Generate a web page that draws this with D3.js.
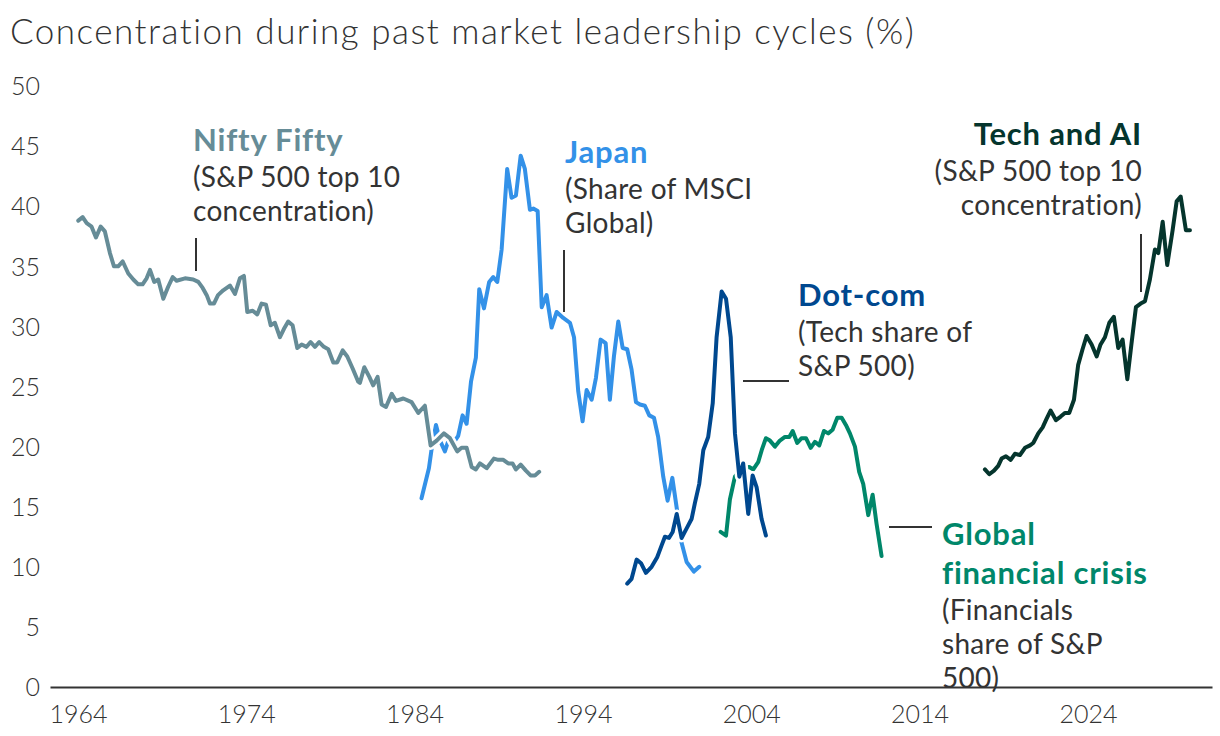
<!DOCTYPE html>
<html>
<head>
<meta charset="utf-8">
<script src="https://cdn.jsdelivr.net/npm/d3@7"></script>
<style>
  body { margin: 0; background: #fff; }
  svg text { font-family: Lato, "Open Sans", sans-serif; fill: #333; }
</style>
</head>
<body>
<div id="chart"></div>
<script>
// Series: [year, percent]
const niftyFifty = [
  [1964.02, 38.8], [1964.28, 39.1], [1964.52, 38.6], [1964.81, 38.3], [1965.07, 37.4],
  [1965.35, 38.3], [1965.60, 37.9], [1965.90, 36.1], [1966.14, 35.0], [1966.39, 35.0],
  [1966.66, 35.4], [1966.99, 34.4], [1967.29, 33.9], [1967.58, 33.5], [1967.84, 33.5],
  [1968.08, 34.0], [1968.28, 34.7], [1968.53, 33.7], [1968.77, 33.9], [1969.07, 32.3],
  [1969.36, 33.3], [1969.63, 34.1], [1969.86, 33.8], [1970.36, 34.0], [1970.85, 33.9],
  [1971.15, 33.7], [1971.41, 33.2], [1971.65, 32.6], [1971.84, 31.9], [1972.08, 31.9],
  [1972.32, 32.6], [1972.63, 33.0], [1973.03, 33.4], [1973.33, 32.7], [1973.62, 34.0],
  [1973.86, 34.2], [1974.06, 31.2], [1974.38, 31.3], [1974.65, 31.0], [1974.91, 31.9],
  [1975.17, 31.8], [1975.45, 30.1], [1975.70, 30.3], [1976.00, 29.1], [1976.24, 29.8],
  [1976.49, 30.4], [1976.75, 30.1], [1977.03, 28.2], [1977.29, 28.5], [1977.58, 28.3],
  [1977.82, 28.7], [1978.08, 28.3], [1978.33, 28.7], [1978.61, 28.3], [1978.87, 28.1],
  [1979.17, 27.0], [1979.40, 27.0], [1979.73, 28.0], [1980.00, 27.5], [1980.32, 26.5],
  [1980.65, 25.4], [1980.75, 25.3], [1981.01, 26.6], [1981.31, 25.8], [1981.54, 25.1],
  [1981.80, 25.8], [1982.04, 23.5], [1982.30, 23.3], [1982.64, 24.4], [1982.89, 23.8],
  [1983.33, 24.0], [1983.82, 23.7], [1984.22, 22.8], [1984.61, 23.4], [1984.95, 20.1],
  [1985.31, 20.5], [1985.74, 21.1], [1986.10, 20.7], [1986.53, 19.6], [1986.79, 19.9],
  [1987.09, 19.9], [1987.39, 18.3], [1987.64, 18.1], [1987.88, 18.6], [1988.28, 18.2],
  [1988.71, 19.0], [1988.97, 18.9], [1989.27, 18.9], [1989.56, 18.6], [1989.82, 18.6],
  [1990.02, 18.1], [1990.30, 18.5], [1990.61, 18.0], [1990.89, 17.6], [1991.15, 17.6],
  [1991.40, 17.9]
];

const japan = [
  [1984.41, 15.7], [1984.85, 18.2], [1985.03, 20.0], [1985.27, 21.8], [1985.51, 20.5],
  [1985.80, 19.6], [1986.10, 20.9], [1986.40, 20.5], [1986.59, 20.9], [1986.85, 22.6],
  [1987.09, 21.9], [1987.35, 25.4], [1987.64, 27.4], [1987.84, 33.1], [1988.12, 31.5],
  [1988.43, 33.7], [1988.67, 34.1], [1988.91, 33.7], [1989.17, 36.4], [1989.50, 43.1],
  [1989.76, 40.7], [1990.02, 40.9], [1990.30, 44.2], [1990.55, 43.1], [1990.85, 39.7],
  [1991.05, 39.8], [1991.31, 39.6], [1991.55, 31.6], [1991.84, 32.6], [1992.14, 29.9],
  [1992.44, 31.2], [1992.83, 30.7], [1993.23, 30.3], [1993.47, 29.1], [1993.72, 24.6],
  [1993.98, 22.1], [1994.22, 24.7], [1994.52, 23.9], [1994.77, 25.7], [1995.05, 28.9],
  [1995.35, 28.6], [1995.60, 23.9], [1995.84, 27.5], [1996.10, 30.4], [1996.36, 28.2],
  [1996.63, 28.1], [1996.89, 26.4], [1997.15, 23.7], [1997.39, 23.5], [1997.68, 23.4],
  [1997.94, 22.6], [1998.22, 22.4], [1998.47, 20.8], [1998.77, 17.5], [1999.03, 15.5],
  [1999.31, 17.4], [1999.57, 14.9], [1999.86, 12.0], [2000.16, 10.4], [2000.59, 9.6],
  [2000.91, 10.0]
];

const dotCom = [
  [1996.63, 8.6], [1996.89, 9.0], [1997.19, 10.6], [1997.45, 10.3], [1997.74, 9.5],
  [1998.08, 10.0], [1998.41, 10.8], [1998.68, 11.8], [1998.87, 12.5], [1999.11, 12.4],
  [1999.33, 12.9], [1999.57, 14.4], [1999.86, 12.4], [2000.16, 13.2], [2000.46, 14.0],
  [2000.65, 15.3], [2000.91, 16.9], [2001.15, 19.7], [2001.44, 20.8], [2001.71, 23.6],
  [2001.94, 29.1], [2002.24, 32.9], [2002.50, 32.3], [2002.78, 29.1], [2003.03, 21.1],
  [2003.29, 17.5], [2003.52, 18.6], [2003.82, 14.4], [2004.08, 17.6], [2004.32, 16.6],
  [2004.61, 14.0], [2004.87, 12.6]
];

const gfc = [
  [2002.18, 12.9], [2002.50, 12.6], [2002.73, 15.6], [2003.03, 17.5], [2003.45, 18.2],
  [2003.88, 18.3], [2004.12, 18.1], [2004.41, 18.7], [2004.62, 19.7], [2004.87, 20.7],
  [2005.11, 20.5], [2005.41, 20.0], [2005.70, 20.5], [2006.00, 20.8], [2006.26, 20.8],
  [2006.46, 21.3], [2006.73, 20.3], [2006.99, 20.7], [2007.25, 20.7], [2007.53, 19.9],
  [2007.78, 20.4], [2008.04, 20.1], [2008.32, 21.3], [2008.57, 21.1], [2008.83, 21.4],
  [2009.11, 22.4], [2009.37, 22.4], [2009.62, 21.8], [2009.86, 21.1], [2010.16, 20.0],
  [2010.41, 17.9], [2010.65, 16.9], [2010.95, 14.3], [2011.21, 16.0], [2011.44, 13.6],
  [2011.74, 10.9]
];

const techAI = [
  [2017.88, 18.1], [2018.14, 17.7], [2018.42, 18.0], [2018.67, 18.4], [2018.87, 19.0],
  [2019.13, 19.2], [2019.41, 18.9], [2019.66, 19.4], [2019.96, 19.3], [2020.26, 19.9],
  [2020.56, 20.1], [2020.75, 20.3], [2021.05, 21.1], [2021.31, 21.6], [2021.54, 22.3],
  [2021.78, 23.0], [2022.10, 22.2], [2022.38, 22.5], [2022.63, 22.8], [2022.89, 22.8],
  [2023.17, 23.9], [2023.42, 26.8], [2023.68, 28.1], [2023.92, 29.2], [2024.22, 28.5],
  [2024.52, 27.5], [2024.75, 28.5], [2025.01, 29.1], [2025.27, 30.3], [2025.54, 30.8],
  [2025.80, 28.2], [2026.06, 28.9], [2026.34, 25.6], [2026.59, 28.6], [2026.85, 31.6],
  [2027.13, 31.9], [2027.39, 32.1], [2027.68, 33.9], [2027.98, 36.4], [2028.18, 36.1],
  [2028.44, 38.7], [2028.71, 35.1], [2029.03, 38.0], [2029.27, 40.4], [2029.51, 40.8],
  [2029.82, 38.0], [2030.06, 38.0]
];

const yTicks = [0, 5, 10, 15, 20, 25, 30, 35, 40, 45, 50];
const xTicks = [1964, 1974, 1984, 1994, 2004, 2014, 2024];

// Series drawn bottom to top
const seriesList = [
  { name: "Japan", data: japan, color: "#3391e8" },
  { name: "Nifty Fifty", data: niftyFifty, color: "#668c97" },
  { name: "GFC", data: gfc, color: "#00876a" },
  { name: "Dot-com", data: dotCom, color: "#00488f" },
  { name: "Tech and AI", data: techAI, color: "#05352d" }
];

const width = 1220;
const height = 736;

const svg = d3.select("#chart")
  .append("svg")
  .attr("width", width)
  .attr("height", height);

const xScale = d3.scaleLinear()
  .domain([1962.34, 2031.37])
  .range([50, 1212]);

const yScale = d3.scaleLinear()
  .domain([0, 50])
  .range([687, 86]);

// Title
svg.append("text")
  .attr("x", 10)
  .attr("y", 44)
  .style("font-size", "35px")
  .style("font-weight", 300)
  .style("letter-spacing", "1.5px")
  .text("Concentration during past market leadership cycles (%)");

// Y axis labels (no line)
const yAxis = svg.append("g")
  .attr("transform", "translate(46,0)")
  .call(d3.axisLeft(yScale).tickValues(yTicks).tickSize(0).tickPadding(6));
yAxis.select(".domain").remove();
yAxis.selectAll("text")
  .attr("dy", "0.35em")
  .style("font-size", "25px")
  .style("font-weight", 300)
  .style("font-family", "Lato, sans-serif")
  .attr("fill", "#333");

// X axis
const xAxis = svg.append("g")
  .attr("transform", `translate(0,${yScale(0)})`)
  .call(d3.axisBottom(xScale).tickValues(xTicks).tickFormat(d3.format("d")).tickSize(0).tickPadding(18));
xAxis.select(".domain")
  .attr("stroke", "#333")
  .attr("stroke-width", 2);
xAxis.selectAll("text")
  .attr("dy", "0.71em")
  .style("font-size", "25px")
  .style("font-weight", 300)
  .style("font-family", "Lato, sans-serif")
  .attr("fill", "#333");

// Lines with white halo so crossings show a gap
const line = d3.line()
  .x(d => xScale(d[0]))
  .y(d => yScale(d[1]));

seriesList.forEach(s => {
  svg.append("path")
    .datum(s.data)
    .attr("d", line)
    .attr("fill", "none")
    .attr("stroke", "#fff")
    .attr("stroke-width", 9)
    .attr("stroke-linejoin", "round");
  svg.append("path")
    .datum(s.data)
    .attr("d", line)
    .attr("fill", "none")
    .attr("stroke", s.color)
    .attr("stroke-width", 4)
    .attr("stroke-linejoin", "round")
    .attr("stroke-linecap", "round");
});

// Annotations
function label(x, y, title, lines, color, anchor) {
  const g = svg.append("g").attr("text-anchor", anchor || "start");
  title.forEach((t, i) => {
    g.append("text")
      .attr("x", x)
      .attr("y", y + i * 39)
      .style("font-size", "31px")
      .style("font-weight", 700)
      .style("letter-spacing", "0.8px")
      .style("fill", color)
      .text(t);
  });
  const y0 = y + (title.length - 1) * 39 + 36;
  lines.forEach((t, i) => {
    g.append("text")
      .attr("x", x)
      .attr("y", y0 + i * 34)
      .style("font-size", "28px")
      .style("letter-spacing", "0.3px")
      .text(t);
  });
}

label(193, 151, ["Nifty Fifty"], ["(S&P 500 top 10", "concentration)"], "#668c97");
label(565, 163, ["Japan"], ["(Share of MSCI", "Global)"], "#3391e8");
label(798, 306, ["Dot-com"], ["(Tech share of", "S&P 500)"], "#00488f");
label(942, 545, ["Global", "financial crisis"], ["(Financials", "share of S&P", "500)"], "#00876a");
label(1142, 145, ["Tech and AI"], ["(S&P 500 top 10", "concentration)"], "#05352d", "end");

// Leader lines
const leaders = [
  [196, 238, 196, 271],
  [564, 250, 564, 312],
  [743, 381, 789, 381],
  [889, 527, 932, 527],
  [1141, 234, 1141, 292]
];
svg.selectAll(".leader")
  .data(leaders)
  .enter()
  .append("line")
  .attr("class", "leader")
  .attr("x1", d => d[0])
  .attr("y1", d => d[1])
  .attr("x2", d => d[2])
  .attr("y2", d => d[3])
  .attr("stroke", "#333")
  .attr("stroke-width", 2);
</script>
</body>
</html>
